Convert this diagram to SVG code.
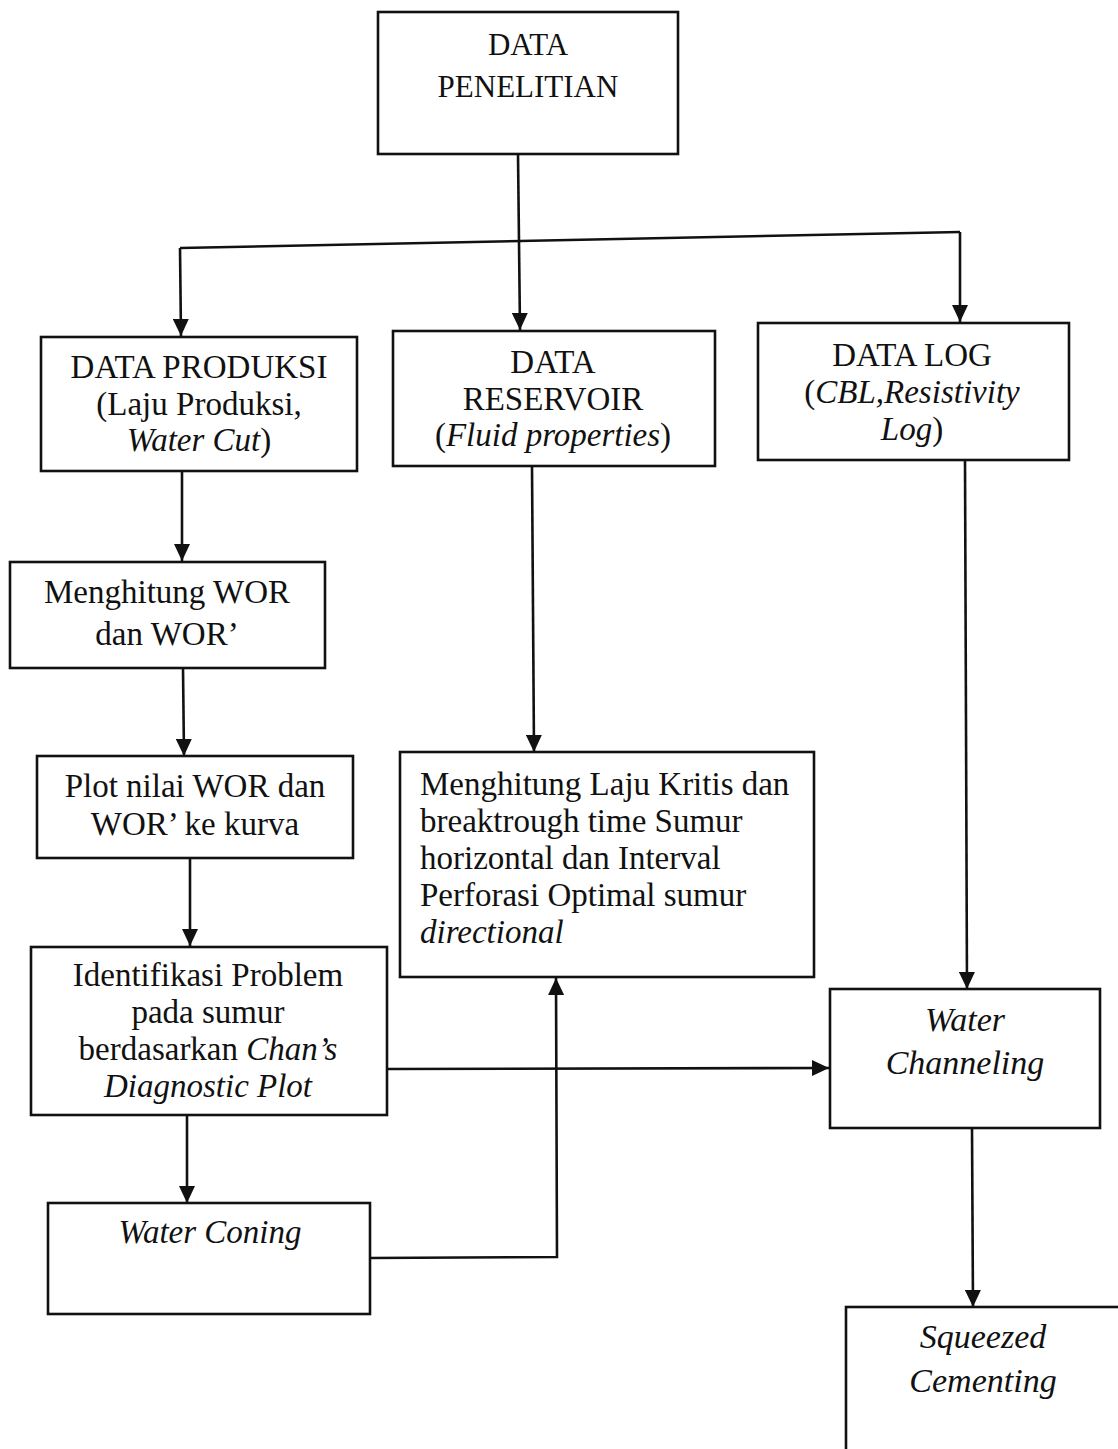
<svg xmlns="http://www.w3.org/2000/svg" width="1118" height="1449" viewBox="0 0 1118 1449">
<style>
.box{fill:#fff;stroke:#111;stroke-width:2.6}
.con{fill:none;stroke:#111;stroke-width:2.6}
text{font-family:"Liberation Serif","Times New Roman",serif;font-size:33px;fill:#111}
.c{text-anchor:middle}
.i{font-style:italic}
.top{font-size:31px}
.big{font-size:34px}
</style>
<defs>
<marker id="ah" markerUnits="userSpaceOnUse" markerWidth="18" markerHeight="16" refX="17" refY="8" orient="auto">
<path d="M0,0 L17,8 L0,16 z" fill="#111"/>
</marker>
</defs>
<rect width="1118" height="1449" fill="#fff"/>
<g id="connectors">
<path class="con" d="M518,154 L520,330" marker-end="url(#ah)"/>
<path class="con" d="M180,248 L960,232"/>
<path class="con" d="M180,248 L181,336" marker-end="url(#ah)"/>
<path class="con" d="M960,232 L960,322" marker-end="url(#ah)"/>
<path class="con" d="M182,472 L182,561" marker-end="url(#ah)"/>
<path class="con" d="M183,668 L184,756" marker-end="url(#ah)"/>
<path class="con" d="M190,858 L190,946" marker-end="url(#ah)"/>
<path class="con" d="M532,466 L534,752" marker-end="url(#ah)"/>
<path class="con" d="M965,460 L967,989" marker-end="url(#ah)"/>
<path class="con" d="M387,1069 L829,1068" marker-end="url(#ah)"/>
<path class="con" d="M187,1115 L187,1203" marker-end="url(#ah)"/>
<path class="con" d="M370,1258 L557,1257 L556,978" marker-end="url(#ah)"/>
<path class="con" d="M972,1128 L973,1307" marker-end="url(#ah)"/>
</g>
<g id="data-penelitian">
<rect class="box" x="378" y="12" width="300" height="142"/>
<text class="c top" x="528" y="55">DATA</text>
<text class="c top" x="528" y="97">PENELITIAN</text>
</g>
<g id="data-produksi">
<rect class="box" x="41" y="337" width="316" height="134"/>
<text class="c" x="199" y="378">DATA PRODUKSI</text>
<text class="c" x="199" y="415">(Laju Produksi,</text>
<text class="c" x="199" y="451"><tspan class="i">Water Cut</tspan>)</text>
</g>
<g id="data-reservoir">
<rect class="box" x="393" y="331" width="322" height="135"/>
<text class="c" x="553" y="373">DATA</text>
<text class="c" x="553" y="410">RESERVOIR</text>
<text class="c" x="553" y="446">(<tspan class="i">Fluid properties</tspan>)</text>
</g>
<g id="data-log">
<rect class="box" x="758" y="323" width="311" height="137"/>
<text class="c" x="912" y="366">DATA LOG</text>
<text class="c" x="912" y="403">(<tspan class="i">CBL,Resistivity</tspan></text>
<text class="c" x="912" y="440"><tspan class="i">Log</tspan>)</text>
</g>
<g id="menghitung-wor">
<rect class="box" x="10" y="562" width="315" height="106"/>
<text class="c" x="167" y="603">Menghitung WOR</text>
<text class="c" x="167" y="645">dan WOR’</text>
</g>
<g id="plot-wor">
<rect class="box" x="37" y="756" width="316" height="102"/>
<text class="c" x="195" y="797">Plot nilai WOR dan</text>
<text class="c" x="195" y="835">WOR’ ke kurva</text>
</g>
<g id="laju-kritis">
<rect class="box" x="400" y="752" width="414" height="225"/>
<text x="420" y="795">Menghitung Laju Kritis dan</text>
<text x="420" y="832">breaktrough time Sumur</text>
<text x="420" y="869">horizontal dan Interval</text>
<text x="420" y="906">Perforasi Optimal sumur</text>
<text class="i" x="420" y="943">directional</text>
</g>
<g id="identifikasi">
<rect class="box" x="31" y="947" width="356" height="168"/>
<text class="c" x="208" y="986">Identifikasi Problem</text>
<text class="c" x="208" y="1023">pada sumur</text>
<text class="c" x="208" y="1060">berdasarkan <tspan class="i">Chan’s</tspan></text>
<text class="c i" x="208" y="1097">Diagnostic Plot</text>
</g>
<g id="water-coning">
<rect class="box" x="48" y="1203" width="322" height="111"/>
<text class="c i" x="210" y="1243">Water Coning</text>
</g>
<g id="water-channeling">
<rect class="box" x="830" y="989" width="270" height="139"/>
<text class="c i big" x="965" y="1031">Water</text>
<text class="c i big" x="965" y="1074">Channeling</text>
</g>
<g id="squeezed-cementing">
<rect class="box" x="846" y="1307" width="290" height="160"/>
<text class="c i big" x="983" y="1348">Squeezed</text>
<text class="c i big" x="983" y="1392">Cementing</text>
</g>
</svg>
